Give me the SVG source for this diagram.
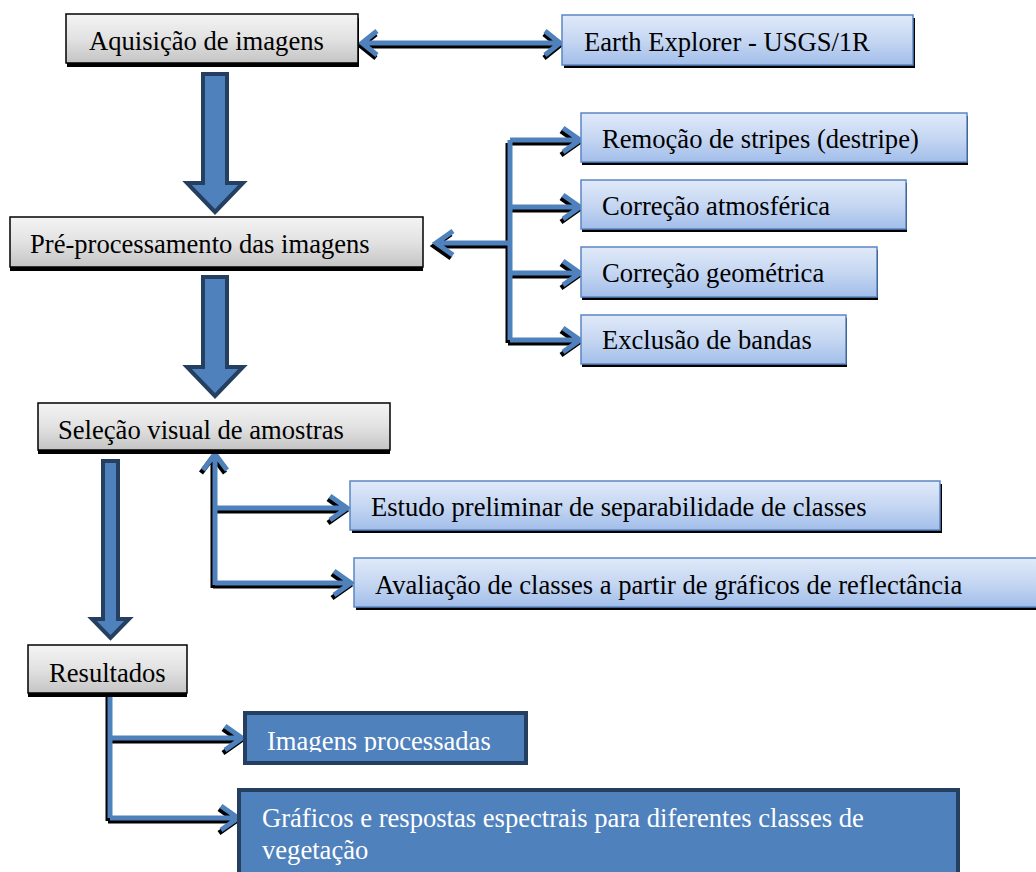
<svg xmlns="http://www.w3.org/2000/svg" xmlns:xlink="http://www.w3.org/1999/xlink" width="1036" height="872" viewBox="0 0 1036 872">
<defs>
<linearGradient id="gGray" x1="0" y1="0" x2="0" y2="1">
<stop offset="0" stop-color="#F4F4F4"/>
<stop offset="0.5" stop-color="#E2E2E2"/>
<stop offset="1" stop-color="#C4C4C4"/>
</linearGradient>
<linearGradient id="gBlue" x1="0" y1="0" x2="0" y2="1">
<stop offset="0" stop-color="#E0EAF9"/>
<stop offset="0.5" stop-color="#C6D7F2"/>
<stop offset="1" stop-color="#A2BEEA"/>
</linearGradient>
<clipPath id="clipImg"><rect x="243" y="711" width="285" height="41"/></clipPath>
<path id="c1" d="M362,43 H560 M377,31 L362,43 L377,55 M545,31 L560,43 L545,55"/>
<path id="c2" d="M510,140 V340 M510,140 H580 M510,207 H580 M510,273 H580 M510,340 H580 M512,243 H436 M563,128 L580,140 L563,152 M563,195 L580,207 L563,219 M563,261 L580,273 L563,285 M563,328 L580,340 L563,352 M453,231 L436,243 L453,255"/>
<path id="c3" d="M215,585 V454 M215,508 H347 M215,583 H351 M203,470 L215,454 L227,470 M330,496 L347,508 L330,520 M334,571 L351,583 L334,595"/>
<path id="c4" d="M110,693 V818 M110,738 H242 M110,818 H238 M225,726 L242,738 L225,750 M221,806 L238,818 L221,830"/>
</defs>
<style>
.shadow{fill:#000}
.gray{fill:url(#gGray);stroke:#000;stroke-width:1.5}
.blue{fill:url(#gBlue);stroke:#5B87C5;stroke-width:1.5}
.dark{fill:#4F81BD;stroke:#243F60;stroke-width:4}
text{font-family:'Liberation Serif','Times New Roman',serif;font-size:26.6px}
.t{fill:#000}
.tw{fill:#fff}
.sh{fill:none;stroke:#000;stroke-width:5;stroke-linejoin:miter}
.ln{fill:none;stroke:#4F81BD;stroke-width:5;stroke-linejoin:miter}
.block{fill:#4F81BD;stroke:#243F60;stroke-width:4;stroke-linejoin:miter}
</style>

<g id="connectors">
<use xlink:href="#c1" class="sh" transform="translate(-1,3)"/>
<use xlink:href="#c1" class="ln"/>
<use xlink:href="#c2" class="sh" transform="translate(-2,3)"/>
<use xlink:href="#c2" class="ln"/>
<use xlink:href="#c3" class="sh" transform="translate(-2,3)"/>
<use xlink:href="#c3" class="ln"/>
<use xlink:href="#c4" class="sh" transform="translate(-2,3)"/>
<use xlink:href="#c4" class="ln"/>
<polygon class="block" points="203,74 227,74 227,183 243,183 215,212 187,183 203,183"/>
<polygon class="block" points="203,277 227,277 227,367 243,367 215,396 187,367 203,367"/>
<polygon class="block" points="103,461 118,461 118,619 129,619 110.5,638 92,619 103,619"/>
</g>

<g id="n-aquisicao">
<rect class="shadow" x="67" y="18" width="292" height="49"/>
<rect class="gray" x="66" y="14" width="292" height="49"/>
<text class="t" x="89" y="50">Aquisição de imagens</text>
</g>
<g id="n-earth">
<rect class="shadow" x="564" y="18" width="351" height="50"/>
<rect class="blue" x="562" y="15" width="351" height="50"/>
<text class="t" x="584" y="51">Earth Explorer - USGS/1R</text>
</g>
<g id="n-pre">
<rect class="shadow" x="10" y="221" width="413" height="50"/>
<rect class="gray" x="10" y="217" width="413" height="50"/>
<text class="t" x="30" y="253">Pré-processamento das imagens</text>
</g>
<g id="n-remocao">
<rect class="shadow" x="582" y="116" width="386" height="49"/>
<rect class="blue" x="581" y="113" width="386" height="49"/>
<text class="t" x="602" y="148">Remoção de stripes (destripe)</text>
</g>
<g id="n-atm">
<rect class="shadow" x="582" y="183" width="325" height="49"/>
<rect class="blue" x="581" y="180" width="325" height="49"/>
<text class="t" x="602" y="215">Correção atmosférica</text>
</g>
<g id="n-geom">
<rect class="shadow" x="582" y="250" width="296" height="50"/>
<rect class="blue" x="581" y="247" width="296" height="50"/>
<text class="t" x="602" y="282">Correção geométrica</text>
</g>
<g id="n-exclusao">
<rect class="shadow" x="582" y="318" width="265" height="49"/>
<rect class="blue" x="581" y="315" width="265" height="49"/>
<text class="t" x="602" y="349">Exclusão de bandas</text>
</g>
<g id="n-selecao">
<rect class="shadow" x="38" y="407" width="352" height="47"/>
<rect class="gray" x="38" y="403" width="352" height="47"/>
<text class="t" x="58" y="439">Seleção visual de amostras</text>
</g>
<g id="n-estudo">
<rect class="shadow" x="352" y="484" width="590" height="49"/>
<rect class="blue" x="350" y="481" width="590" height="49"/>
<text class="t" x="371" y="516">Estudo preliminar de separabilidade de classes</text>
</g>
<g id="n-avaliacao">
<rect class="shadow" x="356" y="561" width="682" height="49"/>
<rect class="blue" x="354" y="558" width="684" height="49"/>
<text class="t" x="375" y="594">Avaliação de classes a partir de gráficos de reflectância</text>
</g>
<g id="n-resultados">
<rect class="shadow" x="28" y="649" width="159" height="48"/>
<rect class="gray" x="28" y="645" width="159" height="48"/>
<text class="t" x="49" y="682">Resultados</text>
</g>
<g id="n-imagens">
<rect class="dark" x="245" y="713" width="281" height="50"/>
<text class="tw" x="267" y="750" clip-path="url(#clipImg)">Imagens processadas</text>
</g>
<g id="n-graficos">
<rect class="dark" x="239" y="790" width="719" height="90"/>
<text class="tw" x="262" y="827">Gráficos e respostas espectrais para diferentes classes de</text>
<text class="tw" x="262" y="859">vegetação</text>
</g>
</svg>
